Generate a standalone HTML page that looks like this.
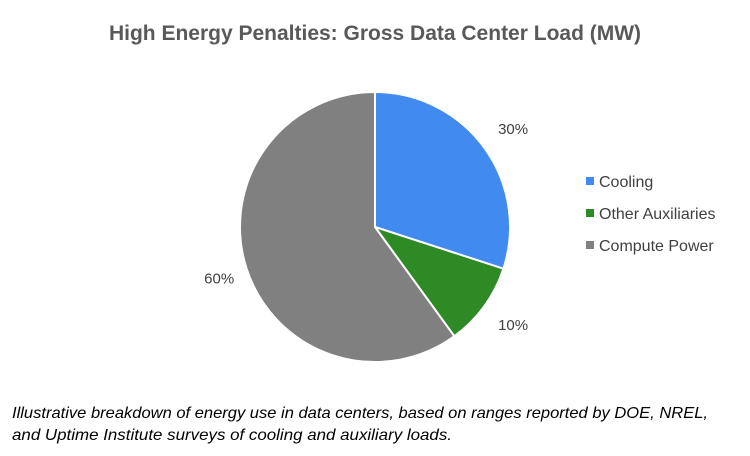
<!DOCTYPE html>
<html><head><meta charset="utf-8"><style>
body{margin:0;background:#fff;width:750px;height:451px;overflow:hidden;font-family:"Liberation Sans",sans-serif;}
</style></head><body>
<svg width="750" height="451">
<text x="375" y="40" text-anchor="middle" font-size="21" font-weight="bold" fill="#595959">High Energy Penalties: Gross Data Center Load (MW)</text>
<g id="pie"></g>
<g id="legend"></g>
<text x="12" y="418" font-size="16" font-style="italic" fill="#000" textLength="696" lengthAdjust="spacingAndGlyphs">Illustrative breakdown of energy use in data centers, based on ranges reported by DOE, NREL,</text>
<text x="12" y="440" font-size="16" font-style="italic" fill="#000" textLength="440" lengthAdjust="spacingAndGlyphs">and Uptime Institute surveys of cooling and auxiliary loads.</text>
</svg>
<script>
const categories=["Cooling","Other Auxiliaries","Compute Power"];
const values=[30,10,60];
const labels=["30%","10%","60%"];
const colors=["#418AEF","#2D8A24","#808080"];
const NS="http://www.w3.org/2000/svg";
const cx=375,cy=227,r=135,lr=167;
const pie=document.getElementById('pie'),leg=document.getElementById('legend');
const total=values.reduce((a,b)=>a+b,0);
let a0=0;
values.forEach((v,i)=>{
 const a1=a0+v/total*2*Math.PI;
 const p=a=>[cx+r*Math.sin(a),cy-r*Math.cos(a)];
 const [x0,y0]=p(a0),[x1,y1]=p(a1);
 const path=document.createElementNS(NS,'path');
 path.setAttribute('d',`M${cx},${cy}L${x0},${y0}A${r},${r} 0 ${a1-a0>Math.PI?1:0} 1 ${x1},${y1}Z`);
 path.setAttribute('fill',colors[i]);path.setAttribute('stroke','#fff');path.setAttribute('stroke-width','2');
 
 
 pie.appendChild(path);
 const am=(a0+a1)/2;
 const t=document.createElementNS(NS,'text');
 t.setAttribute('x',cx+lr*Math.sin(am)+3);t.setAttribute('y',cy-lr*Math.cos(am)+5);
 t.setAttribute('text-anchor','middle');t.setAttribute('font-size','15');t.setAttribute('fill','#404040');
 t.textContent=labels[i];
 
 
 pie.appendChild(t);
 const rc=document.createElementNS(NS,'rect');
 rc.setAttribute('x',586);rc.setAttribute('y',177+i*32);rc.setAttribute('width',8);rc.setAttribute('height',8);rc.setAttribute('fill',colors[i]);
 
 
 leg.appendChild(rc);
 const lt=document.createElementNS(NS,'text');
 lt.setAttribute('x',599);lt.setAttribute('y',187+i*32);lt.setAttribute('font-size','16');lt.setAttribute('fill','#404040');
 lt.textContent=categories[i];
 
 
 leg.appendChild(lt);
 a0=a1;
});
</script>
</body></html>
